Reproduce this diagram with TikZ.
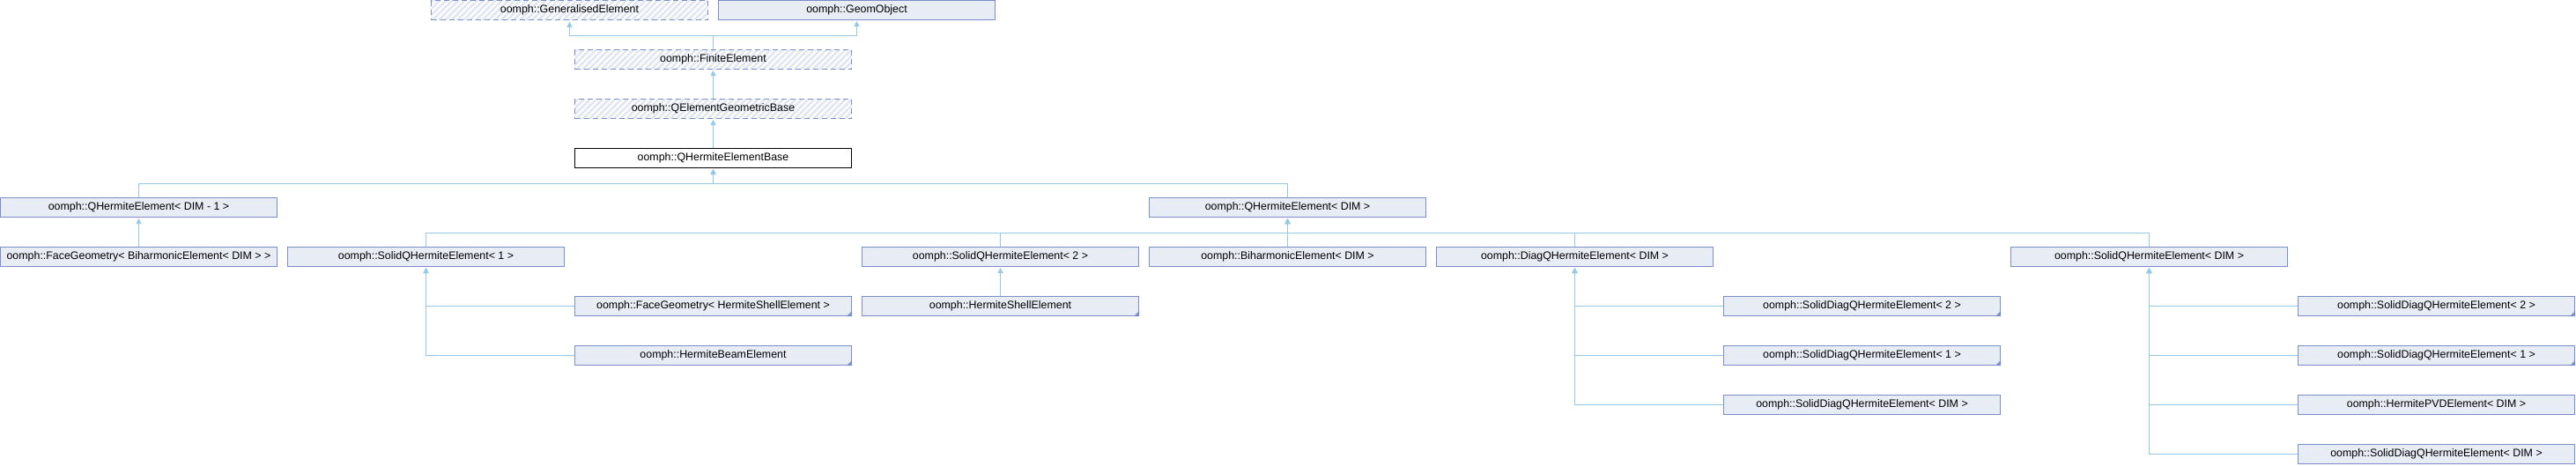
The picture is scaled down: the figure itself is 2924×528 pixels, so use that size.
\documentclass[tikz,border=0pt]{standalone}
\usepackage{fontspec}
\setmainfont{Liberation Sans}
\usetikzlibrary{arrows.meta,patterns.meta,calc}
\definecolor{boxborder}{RGB}{122,142,200}
\definecolor{boxfill}{RGB}{232,236,245}
\definecolor{edgecol}{RGB}{150,200,232}
\definecolor{hatchcol}{RGB}{224,230,242}
\begin{document}
\begin{tikzpicture}[x=1pt,y=-1pt,
  box/.style={draw=boxborder, fill=boxfill, line width=1pt, minimum width=314pt,
    minimum height=22pt, inner sep=0pt, font=\fontsize{12.4}{14}\selectfont},
  hatched/.style={box, fill=white, dash pattern=on 6pt off 4pt,
    pattern={Lines[angle=45,distance=5pt,line width=2.5pt]}, pattern color=hatchcol},
  current/.style={box, draw=black, fill=white},
  edge/.style={draw=edgecol, line width=1pt, -{Triangle[length=6pt,width=6pt]}, shorten >=1pt},
  marker/.style={fill=boxborder}
]
\useasboundingbox (0,0) rectangle (2924,528);
% row 0
\node[hatched] (GE) at (646.5,11.5) {oomph::GeneralisedElement};
\node[box] (GO) at (972.5,11.5) {oomph::GeomObject};
% row 1-3
\node[hatched] (FE) at (809.5,67.5) {oomph::FiniteElement};
\node[hatched] (QEGB) at (809.5,123.5) {oomph::QElementGeometricBase};
\node[current] (QHEB) at (809.5,179.5) {oomph::QHermiteElementBase};
% row 4
\node[box] (QHE1) at (157.5,235.5) {oomph::QHermiteElement< DIM - 1 >};
\node[box] (QHE) at (1461.5,235.5) {oomph::QHermiteElement< DIM >};
% row 5
\node[box] (FGB) at (157.5,291.5) {oomph::FaceGeometry< BiharmonicElement< DIM > >};
\node[box] (SQ1) at (483.5,291.5) {oomph::SolidQHermiteElement< 1 >};
\node[box] (SQ2) at (1135.5,291.5) {oomph::SolidQHermiteElement< 2 >};
\node[box] (BH) at (1461.5,291.5) {oomph::BiharmonicElement< DIM >};
\node[box] (DQ) at (1787.5,291.5) {oomph::DiagQHermiteElement< DIM >};
\node[box] (SQD) at (2439.5,291.5) {oomph::SolidQHermiteElement< DIM >};
% row 6
\node[box] (FGS) at (809.5,347.5) {oomph::FaceGeometry< HermiteShellElement >};
\node[box] (HS) at (1135.5,347.5) {oomph::HermiteShellElement};
\node[box] (SD2a) at (2113.5,347.5) {oomph::SolidDiagQHermiteElement< 2 >};
\node[box] (SD2b) at (2765.5,347.5) {oomph::SolidDiagQHermiteElement< 2 >};
% row 7
\node[box] (HB) at (809.5,403.5) {oomph::HermiteBeamElement};
\node[box] (SD1a) at (2113.5,403.5) {oomph::SolidDiagQHermiteElement< 1 >};
\node[box] (SD1b) at (2765.5,403.5) {oomph::SolidDiagQHermiteElement< 1 >};
% row 8
\node[box] (SDDa) at (2113.5,459.5) {oomph::SolidDiagQHermiteElement< DIM >};
\node[box] (PVD) at (2765.5,459.5) {oomph::HermitePVDElement< DIM >};
% row 9
\node[box] (SDDb) at (2765.5,515.5) {oomph::SolidDiagQHermiteElement< DIM >};
% corner markers
\foreach \n in {FGS,HS,HB,SD2a,SD1a,SD2b,SD1b}
  \fill[marker] ($(\n.south east)+(-6,0)$) -- (\n.south east) -- ($(\n.south east)+(0,-6)$) -- cycle;
% edges
\draw[edge] (FE.north) -- ++(0,-16) -| (GE.south);
\draw[edge] (FE.north) -- ++(0,-16) -| (GO.south);
\draw[edge] (QEGB.north) -- (FE.south);
\draw[edge] (QHEB.north) -- (QEGB.south);
\draw[edge] (QHE1.north) -- ++(0,-16) -| (QHEB.south);
\draw[edge] (QHE.north) -- ++(0,-16) -| (QHEB.south);
\draw[edge] (FGB.north) -- (QHE1.south);
\foreach \c in {SQ1,SQ2,BH,DQ,SQD}
  \draw[edge] (\c.north) -- ++(0,-16) -| (QHE.south);
\foreach \c in {FGS,HB}
  \draw[edge] (\c.west) -| (SQ1.south);
\draw[edge] (HS.north) -- (SQ2.south);
\foreach \c in {SD2a,SD1a,SDDa}
  \draw[edge] (\c.west) -| (DQ.south);
\foreach \c in {SD2b,SD1b,PVD,SDDb}
  \draw[edge] (\c.west) -| (SQD.south);
\end{tikzpicture}
\end{document}
